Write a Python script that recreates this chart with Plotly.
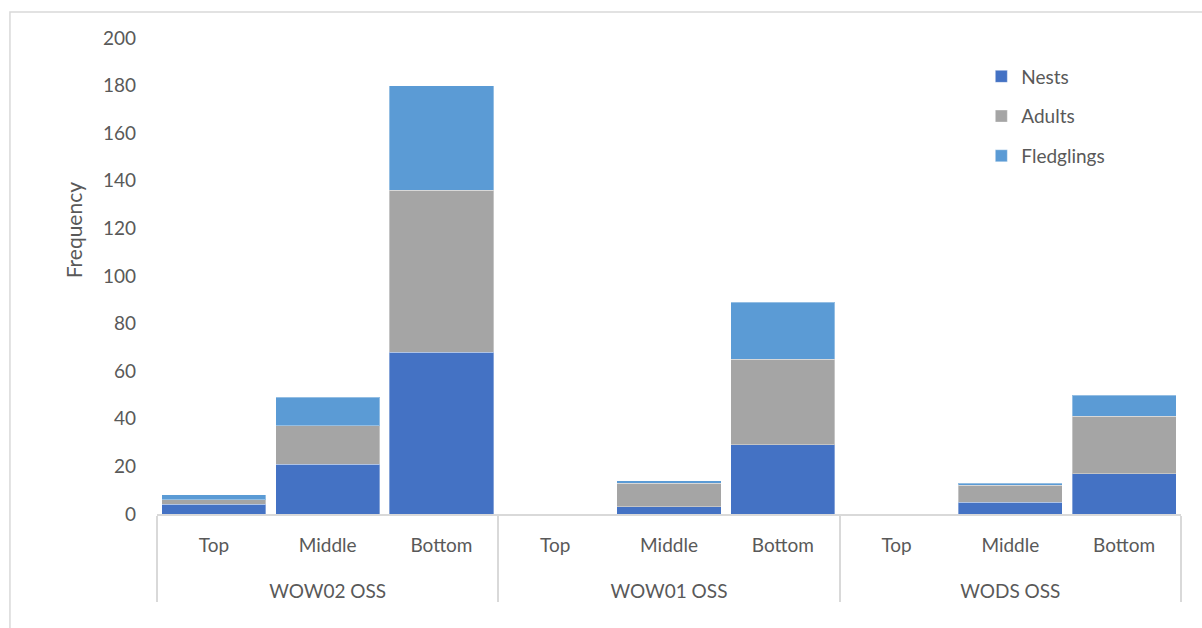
import plotly.graph_objects as go

# Nest survey counts by site and canopy position
sites = ["WOW02 OSS"] * 3 + ["WOW01 OSS"] * 3 + ["WODS OSS"] * 3
positions = ["Top", "Middle", "Bottom"] * 3

nests = [4, 21, 68, 0, 3, 29, 0, 5, 17]
adults = [2, 16, 68, 0, 10, 36, 0, 7, 24]
fledglings = [2, 12, 44, 0, 1, 24, 0, 1, 9]

y_ticks = [0, 20, 40, 60, 80, 100, 120, 140, 160, 180, 200]

series = [
    ("Nests", nests, "#4472C4"),
    ("Adults", adults, "#A5A5A5"),
    ("Fledglings", fledglings, "#5B9BD5"),
]

FONT = "Lato, 'Open Sans', sans-serif"
TEXT = "#595959"
LINE = "#D9D9D9"

# inner category labels carry a blank second line to open space before the site row
position_labels = [p + "<br><span style='font-size:48px'> </span>" for p in positions]

fig = go.Figure()
for name, vals, color in series:
    fig.add_trace(go.Bar(
        x=[sites, position_labels],
        y=vals,
        name=name,
        legendgroup=name,
        marker=dict(color=color, line=dict(color="rgba(255,255,255,0.35)", width=1)),
    ))

# Chart border
fig.add_shape(type="rect", xref="paper", yref="paper",
              x0=-0.1436, x1=1.2, y0=-0.4, y1=1.0546,
              line=dict(color=LINE, width=1.5), fillcolor="rgba(0,0,0,0)", layer="below")

# Value axis title
fig.add_annotation(text="Frequency", textangle=-90, xref="paper", yref="paper",
                   x=-0.0815, y=0.597, xanchor="center", yanchor="middle",
                   showarrow=False, font=dict(family=FONT, size=21, color=TEXT))

fig.update_layout(
    width=1202, height=628,
    barmode="stack",
    bargap=0.085,
    paper_bgcolor="white",
    plot_bgcolor="white",
    font=dict(family=FONT, size=18, color=TEXT),
    margin=dict(l=157, r=21, t=38, b=114),
    legend=dict(
        x=0.805, y=0.959, xanchor="left", yanchor="top",
        traceorder="grouped", tracegroupgap=12,
        font=dict(family=FONT, size=19, color=TEXT),
        itemwidth=30,
        bgcolor="rgba(0,0,0,0)",
    ),
    xaxis=dict(
        type="multicategory",
        showline=True, linecolor=LINE, linewidth=1.5,
        showdividers=True, dividercolor=LINE, dividerwidth=1.5,
        tickfont=dict(family=FONT, size=19, color=TEXT),
        showgrid=False, ticks="", ticklabelstandoff=13,
    ),
    yaxis=dict(
        range=[0, 200],
        tickvals=y_ticks,
        showgrid=False, zeroline=False, showline=False,
        ticks="", ticklabelstandoff=20,
        tickfont=dict(family=FONT, size=19, color=TEXT),
    ),
)

fig.write_html("out.html")
